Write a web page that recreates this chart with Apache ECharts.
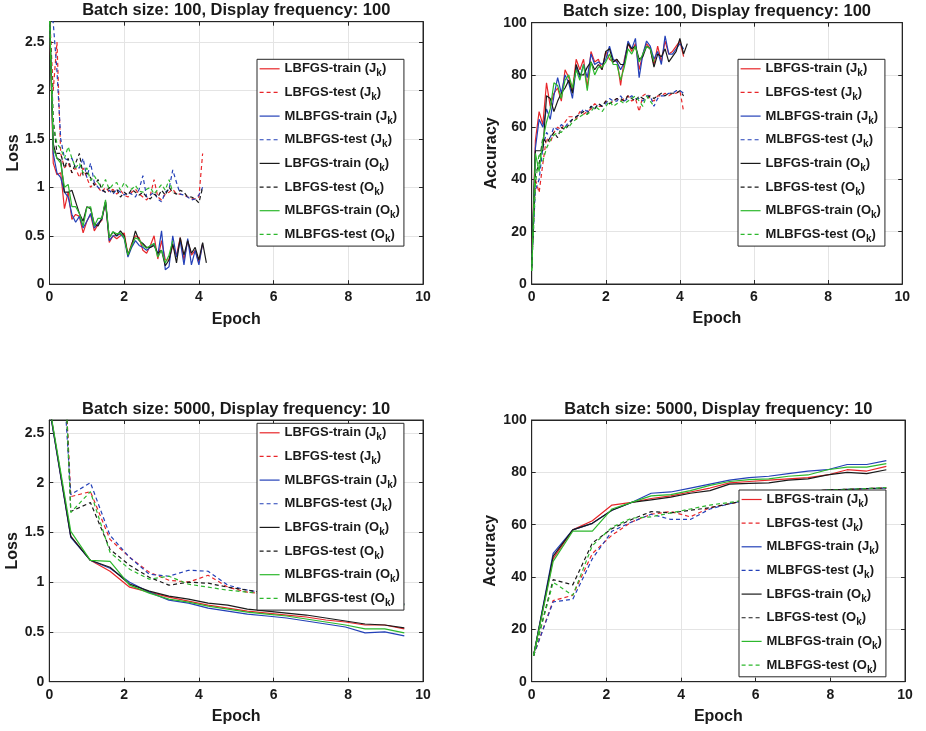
<!DOCTYPE html>
<html>
<head>
<meta charset="utf-8">
<script src="https://cdn.jsdelivr.net/npm/echarts@6/dist/echarts.min.js"></script>
<style>
  html, body { margin: 0; padding: 0; background: #fff; }
  #main { width: 926px; height: 731px; }
</style>
</head>
<body>
<div id="main"></div>
<script>
// series order: LBFGS(J) train/test, MLBFGS(J) train/test, LBFGS(O) train/test, MLBFGS(O) train/test
var seriesNames = [
  'LBFGS-train (Jk)', 'LBFGS-test (Jk)', 'MLBFGS-train (Jk)', 'MLBFGS-test (Jk)',
  'LBFGS-train (Ok)', 'LBFGS-test (Ok)', 'MLBFGS-train (Ok)', 'MLBFGS-test (Ok)'
];
var titles = [
  'Batch size: 100, Display frequency: 100',
  'Batch size: 100, Display frequency: 100',
  'Batch size: 5000, Display frequency: 10',
  'Batch size: 5000, Display frequency: 10'
];

// epochs, batch size 100 (every 0.1 epoch)
var epochsSmall = [0, 0.1, 0.2, 0.3, 0.4, 0.5, 0.6, 0.7, 0.8, 0.9, 1.0, 1.1, 1.2, 1.3, 1.4, 1.5, 1.6, 1.7, 1.8, 1.9,
  2.0, 2.1, 2.2, 2.3, 2.4, 2.5, 2.6, 2.7, 2.8, 2.9, 3.0, 3.1, 3.2, 3.3, 3.4, 3.5, 3.6, 3.7, 3.8, 3.9, 4.0, 4.1, 4.2];
// epochs, batch size 5000
var epochsLarge = [0.05, 0.575, 1.1, 1.625, 2.15, 2.675, 3.2, 3.725, 4.25, 4.775, 5.3, 5.825, 6.35, 6.875, 7.4,
  7.925, 8.45, 8.975, 9.5];

// ---- batch 100 : loss
var lossSmallLbfgsTrainJ = [2.8, 1.25, 1.13, 1.15, 0.78, 0.95, 0.67, 0.72, 0.7, 0.53, 0.65, 0.72, 0.55, 0.62, 0.66, 0.85, 0.43, 0.5, 0.47, 0.5,
  0.53, 0.3, 0.42, 0.5, 0.48, 0.35, 0.32, 0.4, 0.5, 0.26, 0.45, 0.25, 0.25, 0.4, 0.3, 0.48, 0.25, 0.45, 0.3, 0.35, 0.22, 0.42];
var lossSmallLbfgsTestJ = [2.8, 2.0, 2.5, 1.35, 1.2, 1.25, 1.15, 1.2, 1.1, 1.2, 1.1, 1.0, 1.05, 1.0, 0.95, 1.0, 0.95, 0.98, 0.93, 0.97,
  0.92, 0.9, 0.95, 0.98, 0.93, 0.9, 0.87, 0.92, 1.08, 0.9, 0.87, 0.93, 0.95, 0.98, 0.93, 0.93, 0.92, 0.9, 0.88, 0.88, 0.9, 1.35];
var lossSmallMlbfgsTrainJ = [2.8, 1.35, 1.15, 1.1, 0.95, 0.9, 0.72, 0.64, 0.7, 0.58, 0.65, 0.73, 0.58, 0.63, 0.67, 0.85, 0.45, 0.5, 0.5, 0.52,
  0.47, 0.28, 0.38, 0.45, 0.4, 0.38, 0.35, 0.38, 0.42, 0.3, 0.55, 0.15, 0.18, 0.5, 0.28, 0.45, 0.2, 0.47, 0.2, 0.35, 0.2, 0.42];
var lossSmallMlbfgsTestJ = [2.8, 2.7, 2.2, 1.5, 1.3, 1.28, 1.3, 1.2, 1.2, 1.3, 1.1, 1.25, 1.05, 1.0, 0.97, 0.95, 0.97, 0.93, 0.98, 0.95,
  0.92, 0.95, 0.93, 0.9, 0.98, 1.12, 0.9, 0.92, 0.95, 0.88, 0.85, 0.95, 0.98, 1.18, 1.05, 0.93, 0.92, 0.9, 0.87, 0.88, 0.92, 1.0];
var lossSmallLbfgsTrainO = [2.8, 1.45, 1.3, 1.28, 0.95, 0.95, 0.97, 0.85, 0.73, 0.65, 0.8, 0.78, 0.62, 0.6, 0.68, 0.85, 0.48, 0.54, 0.5, 0.55,
  0.5, 0.3, 0.4, 0.55, 0.45, 0.42, 0.38, 0.38, 0.4, 0.32, 0.35, 0.19, 0.25, 0.42, 0.22, 0.48, 0.3, 0.45, 0.32, 0.38, 0.25, 0.43, 0.22];
var lossSmallLbfgsTestO = [2.8, 1.7, 1.35, 1.35, 1.2, 1.3, 1.15, 1.25, 1.35, 1.12, 1.15, 1.1, 1.02, 1.08, 0.98, 0.95, 1.0, 0.95, 0.98, 0.9,
  0.95, 0.92, 0.98, 0.95, 0.92, 0.95, 0.9, 0.88, 0.93, 0.9, 0.97, 0.92, 1.0, 0.95, 0.93, 0.97, 0.95, 0.9, 0.9, 0.88, 0.84, 1.0];
var lossSmallMlbfgsTrainO = [2.8, 1.4, 1.3, 1.25, 1.0, 1.03, 0.8, 0.8, 0.73, 0.6, 0.79, 0.8, 0.6, 0.68, 0.68, 0.87, 0.48, 0.54, 0.52, 0.53,
  0.48, 0.3, 0.4, 0.48, 0.46, 0.4, 0.37, 0.4, 0.42, 0.28, 0.35, 0.22, 0.3, 0.45];
var lossSmallMlbfgsTestO = [2.8, 1.65, 1.45, 1.4, 1.3, 1.42, 1.3, 1.2, 1.25, 1.15, 1.2, 1.07, 1.12, 1.05, 1.0, 1.08, 0.98, 1.03, 1.05, 0.97,
  1.05, 1.0, 0.98, 1.02, 0.96, 0.95, 0.98, 1.0, 0.93, 0.98, 1.03, 0.97, 1.08, 0.95];

// ---- batch 100 : accuracy
var accSmallLbfgsTrainJ = [8, 55, 66, 61, 77, 68, 73, 75, 70, 82, 79, 74, 86, 82, 86, 75, 89, 85, 86, 82,
  89, 86, 85, 86, 76, 86, 92, 89, 92, 82, 88, 92, 90, 84, 91, 85, 93, 88, 89, 91, 93, 87];
var accSmallLbfgsTestJ = [8, 40, 35, 46, 56, 54, 58, 60, 59, 62, 64, 64, 63, 66, 65, 66, 67, 69, 68, 68,
  70, 69, 70, 71, 70, 71, 72, 70, 71, 66, 72, 73, 71, 70, 72, 72, 73, 72, 73, 73, 74, 66];
var accSmallMlbfgsTrainJ = [7, 52, 63, 60, 67, 63, 72, 79, 73, 80, 77, 71, 83, 79, 84, 79, 88, 84, 85, 84,
  86, 91, 86, 85, 82, 85, 93, 90, 94, 79, 88, 93, 91, 86, 89, 84, 95, 88, 88, 90, 92, 90];
var accSmallMlbfgsTestJ = [7, 36, 40, 52, 58, 56, 60, 59, 61, 60, 62, 63, 64, 65, 67, 66, 68, 67, 69, 68,
  69, 71, 70, 70, 72, 70, 71, 72, 71, 71, 70, 72, 72, 68, 71, 72, 72, 73, 73, 74, 74, 73];
var accSmallLbfgsTrainO = [6, 51, 51, 51, 72, 71, 66, 70, 73, 75, 78, 73, 84, 80, 80, 83, 85, 82, 84, 82,
  89, 90, 85, 86, 84, 84, 92, 90, 91, 86, 87, 91, 90, 83, 88, 87, 90, 85, 87, 89, 94, 88, 92];
var accSmallLbfgsTestO = [6, 42, 46, 56, 54, 56, 58, 56, 60, 59, 61, 63, 64, 65, 66, 65, 68, 67, 69, 68,
  70, 69, 70, 71, 71, 70, 72, 71, 70, 72, 71, 71, 72, 71, 72, 73, 72, 73, 73, 73, 74, 72];
var accSmallMlbfgsTrainO = [5, 50, 43, 55, 62, 67, 77, 76, 71, 78, 80, 75, 82, 78, 84, 74, 85, 80, 83, 83,
  85, 88, 84, 84, 78, 83, 90, 88, 91, 85, 88, 91, 90, 85];
var accSmallMlbfgsTestO = [5, 38, 50, 47, 52, 55, 57, 58, 58, 60, 60, 62, 63, 64, 65, 65, 66, 68, 67, 66,
  68, 70, 68, 69, 70, 69, 70, 71, 72, 70, 68, 72, 70, 68];

// ---- batch 5000 : loss
var lossLargeLbfgsTrainJ = [2.65, 1.46, 1.22, 1.11, 0.95, 0.9, 0.85, 0.81, 0.77, 0.74, 0.71, 0.69, 0.67, 0.65, 0.62, 0.6, 0.57, 0.57, 0.53];
var lossLargeLbfgsTestJ = [6.0, 1.86, 1.91, 1.43, 1.25, 1.1, 1.02, 1.0, 1.07, 0.95, 0.9, 0.88, 0.86, 0.85, 0.83, 0.82, 0.8, 0.8, 0.79];
var lossLargeMlbfgsTrainJ = [2.64, 1.45, 1.22, 1.14, 1.0, 0.9, 0.82, 0.79, 0.74, 0.71, 0.68, 0.66, 0.64, 0.61, 0.58, 0.55, 0.49, 0.5, 0.46];
var lossLargeMlbfgsTestJ = [5.0, 1.88, 2.0, 1.47, 1.25, 1.08, 1.06, 1.12, 1.11, 0.97, 0.92, 0.89, 0.87, 0.85, 0.84, 0.82, 0.8, 0.79, 0.78];
var lossLargeLbfgsTrainO = [2.66, 1.46, 1.22, 1.15, 0.98, 0.91, 0.86, 0.83, 0.79, 0.77, 0.73, 0.71, 0.69, 0.67, 0.64, 0.61, 0.58, 0.57, 0.54];
var lossLargeLbfgsTestO = [6.5, 1.71, 1.8, 1.33, 1.17, 1.05, 0.97, 1.0, 0.99, 0.95, 0.92, 0.89, 0.87, 0.85, 0.83, 0.82, 0.8, 0.79, 0.78];
var lossLargeMlbfgsTrainO = [2.67, 1.51, 1.22, 1.21, 0.97, 0.89, 0.83, 0.8, 0.76, 0.73, 0.7, 0.68, 0.66, 0.63, 0.6, 0.57, 0.53, 0.53, 0.49];
var lossLargeMlbfgsTestO = [6.5, 1.7, 1.91, 1.3, 1.13, 1.03, 1.06, 0.98, 0.95, 0.92, 0.9, 0.88, 0.86, 0.84, 0.82, 0.8, 0.79, 0.78, 0.77];

// ---- batch 5000 : accuracy
var accLargeLbfgsTrainJ = [10, 47, 58, 61.5, 67.5, 68.5, 70, 71, 72.5, 74, 76, 76.5, 77, 77.5, 78, 79, 81, 80.5, 82.3];
var accLargeLbfgsTestJ = [10, 31, 33, 49, 56, 61, 64, 65, 63, 66.5, 68, 69.5, 70.5, 71.5, 72.5, 73.3, 73.5, 73.8, 74];
var accLargeMlbfgsTrainJ = [10, 49, 58, 60.5, 65.5, 68.5, 72, 72.5, 74, 75.5, 77, 78, 78.5, 79.5, 80.5, 81, 83, 83, 84.5];
var accLargeMlbfgsTestJ = [10, 30.5, 31.5, 47, 57.5, 61, 64, 62, 62, 66, 68, 69.5, 70.5, 71.5, 72.5, 73.3, 73.5, 73.8, 74];
var accLargeLbfgsTrainO = [10, 48, 58, 60.5, 65.5, 68.5, 69.5, 70.5, 72, 73, 75.5, 75.8, 76, 77, 77.5, 79, 80, 79.5, 81];
var accLargeLbfgsTestO = [10, 39, 37, 53, 58.5, 62, 65, 64.5, 65.5, 66.5, 68, 69.5, 70.5, 71.5, 72.5, 73.3, 73.5, 73.8, 74];
var accLargeMlbfgsTrainO = [10, 46, 57.5, 57.5, 66, 68.5, 71, 71.5, 73, 75, 76.5, 77.2, 77.5, 78.5, 79, 81, 82, 82, 83.3];
var accLargeMlbfgsTestO = [10, 38, 33, 52, 59, 62.5, 63, 64.5, 66, 67.5, 68.5, 69.5, 70.5, 71.5, 72.5, 73.3, 73.5, 73.8, 74.2];

var colors = ['#e8262a', '#e8262a', '#2340b8', '#2340b8', '#1a1a1a', '#1a1a1a', '#2db82d', '#2db82d'];
var font = '"Liberation Sans", Arial, Helvetica, sans-serif';
var ink = '#262626';

var boxes = [
  {left: 49.5, top: 21.7, width: 373.5, height: 262.5},
  {left: 531.7, top: 22.7, width: 370.5, height: 261.3},
  {left: 49.3, top: 420, width: 373.7, height: 261.7},
  {left: 531.7, top: 420, width: 373.3, height: 261.7}
];
var yMax = [2.71, 100, 2.63, 100];
var yStep = [0.5, 20, 0.5, 20];
var yNames = ['Loss', 'Accuracy', 'Loss', 'Accuracy'];
var yNameGap = [28, 32, 28, 33];
var legendPos = [[257, 59.3], [738, 59.3], [257, 423.3], [739, 490]];

var panels = [
  [epochsSmall, [lossSmallLbfgsTrainJ, lossSmallLbfgsTestJ, lossSmallMlbfgsTrainJ, lossSmallMlbfgsTestJ,
    lossSmallLbfgsTrainO, lossSmallLbfgsTestO, lossSmallMlbfgsTrainO, lossSmallMlbfgsTestO]],
  [epochsSmall, [accSmallLbfgsTrainJ, accSmallLbfgsTestJ, accSmallMlbfgsTrainJ, accSmallMlbfgsTestJ,
    accSmallLbfgsTrainO, accSmallLbfgsTestO, accSmallMlbfgsTrainO, accSmallMlbfgsTestO]],
  [epochsLarge, [lossLargeLbfgsTrainJ, lossLargeLbfgsTestJ, lossLargeMlbfgsTrainJ, lossLargeMlbfgsTestJ,
    lossLargeLbfgsTrainO, lossLargeLbfgsTestO, lossLargeMlbfgsTrainO, lossLargeMlbfgsTestO]],
  [epochsLarge, [accLargeLbfgsTrainJ, accLargeLbfgsTestJ, accLargeMlbfgsTrainJ, accLargeMlbfgsTestJ,
    accLargeLbfgsTrainO, accLargeLbfgsTestO, accLargeMlbfgsTrainO, accLargeMlbfgsTestO]]
];

var boldText = {fontFamily: font, fontWeight: 'bold', color: '#1a1a1a'};

function legendLabel(name) {
  var m = name.match(/^(.*\()(\w)k\)$/);
  return '{n|' + m[1] + m[2] + '}{s|k}{n|)}';
}

var option = {
  animation: false,
  backgroundColor: '#fff',
  title: [],
  grid: [],
  xAxis: [],
  yAxis: [],
  legend: [],
  series: []
};

boxes.forEach(function (b, gi) {
  option.grid.push({left: b.left, top: b.top, width: b.width, height: b.height, containLabel: false,
    show: true, borderColor: ink, borderWidth: 1, backgroundColor: 'transparent'});

  option.title.push({
    text: titles[gi], left: b.left + b.width / 2, top: b.top - 19.5, textAlign: 'center', padding: 0,
    textStyle: {fontFamily: font, fontWeight: 'bold', fontSize: 16.5, color: '#1a1a1a'}
  });

  var tick = {show: true, inside: true, length: 4, lineStyle: {color: ink, width: 1}};
  var line = {show: true, onZero: false, lineStyle: {color: ink, width: 1}};

  option.xAxis.push({
    type: 'value', gridIndex: gi, min: 0, max: 10, interval: 2, position: 'bottom',
    name: 'Epoch', nameLocation: 'middle', nameGap: 27,
    nameTextStyle: Object.assign({fontSize: 16}, boldText),
    axisLine: line, axisTick: tick,
    axisLabel: Object.assign({fontSize: 14, margin: 6}, boldText),
    splitLine: {show: true, lineStyle: {color: '#e4e4e4', width: 1}}
  }, {
    type: 'value', gridIndex: gi, min: 0, max: 10, interval: 2, position: 'top',
    axisLine: line, axisTick: tick, axisLabel: {show: false}, splitLine: {show: false}
  });

  option.yAxis.push({
    type: 'value', gridIndex: gi, min: 0, max: yMax[gi], interval: yStep[gi], position: 'left',
    name: yNames[gi], nameLocation: 'middle', nameGap: yNameGap[gi],
    nameTextStyle: Object.assign({fontSize: 16}, boldText),
    axisLine: line, axisTick: tick,
    axisLabel: Object.assign({fontSize: 14, margin: 5, showMaxLabel: yMax[gi] === 100}, boldText),
    splitLine: {show: true, lineStyle: {color: '#e4e4e4', width: 1}}
  }, {
    type: 'value', gridIndex: gi, min: 0, max: yMax[gi], interval: yStep[gi], position: 'right',
    axisLine: line, axisTick: tick, axisLabel: {show: false}, splitLine: {show: false}
  });

  option.legend.push({
    orient: 'vertical', left: legendPos[gi][0], top: legendPos[gi][1],
    backgroundColor: '#fff', borderColor: ink, borderWidth: 1, borderRadius: 0,
    padding: [3, 4, 2, 2], itemWidth: 20, itemHeight: 14, itemGap: 7.4,
    selectedMode: false, data: seriesNames, formatter: legendLabel,
    itemStyle: {color: 'transparent', borderWidth: 0, opacity: 0},
    lineStyle: {width: 1.2},
    textStyle: {
      fontFamily: font, fontWeight: 'bold', fontSize: 13, color: '#1a1a1a',
      rich: {
        n: {fontFamily: font, fontWeight: 'bold', fontSize: 13, lineHeight: 19.5, color: '#1a1a1a'},
        s: {fontFamily: font, fontWeight: 'bold', fontSize: 10, lineHeight: 10, verticalAlign: 'bottom', color: '#1a1a1a'}
      }
    }
  });

  var xs = panels[gi][0];
  panels[gi][1].forEach(function (vals, i) {
    option.series.push({
      name: seriesNames[i], type: 'line', xAxisIndex: gi * 2, yAxisIndex: gi * 2,
      symbol: 'none', clip: true, z: 2,
      data: vals.map(function (v, k) { return [xs[k], v]; }),
      itemStyle: {color: colors[i]},
      lineStyle: {color: colors[i], width: 1.2, type: i % 2 ? [4, 3] : 'solid'}
    });
  });
});

var myChart = echarts.init(document.getElementById('main'), null, {renderer: 'canvas'});
myChart.setOption(option);
</script>
</body>
</html>
